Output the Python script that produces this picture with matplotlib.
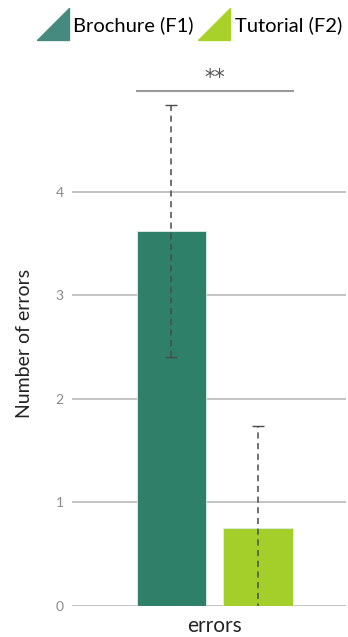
import matplotlib.pyplot as plt
from matplotlib.lines import Line2D
import numpy as np

plt.rcParams["font.family"] = ["Lato", "DejaVu Sans"]

# data
conditions = ["Brochure (F1)", "Tutorial (F2)"]
measure = "errors"
means = [3.62, 0.75]
sds = [1.22, 0.99]
significance = "**"

bar_colors = ["#2e8068", "#a4cf2b"]
legend_colors = ["#45897f", "#a8d12a"]

fig = plt.figure(figsize=(3.48, 6.37), dpi=100)
ax = fig.add_axes([72 / 348, 31 / 637, 274 / 348, 526 / 637])

width = 0.4
offsets = np.array([-0.25, 0.25])
for off, m, sd, col in zip(offsets, means, sds, bar_colors):
    ax.bar(off, m, width=width, color=col, edgecolor="#dfeee8", linewidth=0.6, zorder=2)
    eb = ax.errorbar(off, m, yerr=sd, fmt="none", ecolor="#4a4a4a",
                     elinewidth=1.1, capsize=4, capthick=1.0, zorder=3)
    eb[2][0].set_linestyle((0, (4, 3)))

# significance bracket
top = max(m + s for m, s in zip(means, sds)) + 0.13
ax.plot([offsets[0] - width / 2, offsets[1] + width / 2], [top, top],
        color="#9a9a9a", lw=1.5, clip_on=False, zorder=3)
ax.text(offsets.mean(), top + 0.03, significance, ha="center", va="bottom",
        fontsize=15, color="#555555", family="DejaVu Sans", clip_on=False)

ax.set_xlim(-0.825, 0.759)
ax.set_ylim(0, 5.08)
ax.set_yticks([0, 1, 2, 3, 4])
ax.set_xticks([0])
ax.set_xticklabels([measure], fontsize=15, color="#222222")
ax.yaxis.grid(True, color="#b3b3b3", lw=1.1, zorder=0)
ax.set_axisbelow(True)
ax.tick_params(axis="y", length=0, pad=6, labelsize=10, labelcolor="#8a8a8a")
ax.tick_params(axis="x", length=0, pad=7)
for s in ax.spines.values():
    s.set_visible(False)
ax.set_ylabel("Number of errors", fontsize=14, color="#222222", labelpad=16)

tri = [(-1, -1), (1, -1), (1, 1), (-1, -1)]
handles = [Line2D([], [], linestyle="none", marker=tri, markersize=23,
                  markerfacecolor=c, markeredgecolor=c) for c in legend_colors]
fig.legend(handles, conditions, loc="center", bbox_to_anchor=(0.548, 1 - 25 / 637),
           ncol=2, frameon=False, fontsize=14.5, handlelength=1.3,
           handletextpad=0.35, columnspacing=0.4, borderaxespad=0)

fig.savefig("out.png", dpi=100)
